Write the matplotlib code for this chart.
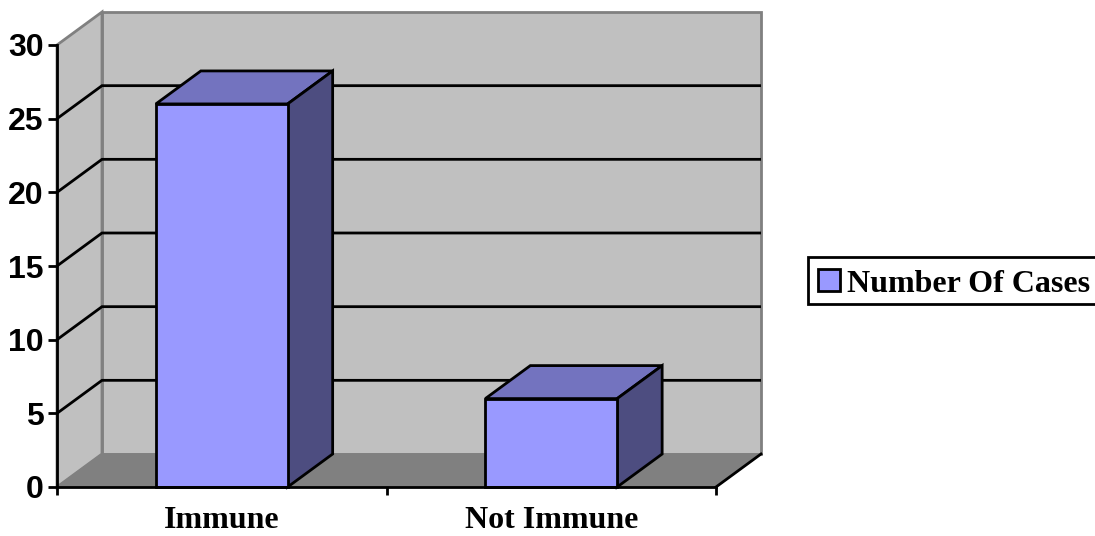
import matplotlib
matplotlib.use("Agg")
import matplotlib.pyplot as plt
from matplotlib.patches import Polygon, Patch, Rectangle

categories = ["Immune", "Not Immune"]
cases = [26, 6]
y_ticks = [0, 5, 10, 15, 20, 25, 30]
series_name = "Number Of Cases"

W, H = 1095, 536
FRONT = "#9999FF"
TOP = "#7373BF"
SIDE = "#4D4D80"
WALL = "#C0C0C0"
FLOOR = "#808080"
LW = 2.0

fig = plt.figure(figsize=(W / 100, H / 100), dpi=100, facecolor="white")
ax = fig.add_axes([57 / W, 1 - 487 / H, (716 - 57) / W, (487 - 45) / H])
ax.set_xlim(0, 2)
ax.set_ylim(0, 30)
ax.patch.set_visible(False)

# depth of the 3-D box, in data units
dx = 45 / (716 - 57) * 2
dy = 33 / ((487 - 45) / 30)
ymax = 30


def poly(pts, face, edge, lw=LW, z=1):
    p = Polygon(pts, closed=True, facecolor=face, edgecolor=edge, linewidth=lw,
                zorder=z, clip_on=False, joinstyle="miter")
    ax.add_patch(p)


# walls and floor
poly([(dx, dy), (2 + dx, dy), (2 + dx, ymax + dy), (dx, ymax + dy)], WALL, FLOOR, 2, 1)
poly([(0, 0), (dx, dy), (dx, ymax + dy), (0, ymax)], WALL, FLOOR, 2, 1)
poly([(0, 0), (2, 0), (2 + dx, dy), (dx, dy)], FLOOR, FLOOR, 1, 1.5)

# gridlines on both walls
for t in y_ticks[1:-1]:
    ax.plot([0, dx, 2 + dx], [t, t + dy, t + dy], color="black", lw=LW,
            clip_on=False, zorder=2, solid_capstyle="butt", solid_joinstyle="miter")
ax.plot([2, 2 + dx], [0, dy], color="black", lw=LW, clip_on=False, zorder=2)

# bars
centers = [0.5, 1.5]
bw = 0.4
ax.bar(centers, cases, width=bw, color=FRONT, edgecolor="black", linewidth=LW,
       zorder=4, clip_on=False)
for c, v in zip(centers, cases):
    l, r = c - bw / 2, c + bw / 2
    poly([(l, v), (r, v), (r + dx, v + dy), (l + dx, v + dy)], TOP, "black", LW, 3)
    poly([(r, 0), (r + dx, dy), (r + dx, v + dy), (r, v)], SIDE, "black", LW, 3)

# axes
for s in ("top", "right"):
    ax.spines[s].set_visible(False)
for s in ("left", "bottom"):
    ax.spines[s].set_linewidth(LW)
    ax.spines[s].set_zorder(5)

ax.set_yticks(y_ticks)
ax.set_yticklabels([str(t) for t in y_ticks], family="Liberation Sans",
                   fontweight="bold", fontsize=23)
ax.tick_params(axis="y", length=6.5, width=LW, pad=3)
ax.set_xticks([0, 1, 2])
ax.set_xticklabels([])
ax.tick_params(axis="x", which="major", length=5.5, width=LW)
ax.set_xticks(centers, minor=True)
ax.set_xticklabels(categories, minor=True, family="Liberation Serif",
                   fontweight="bold", fontsize=23)
ax.tick_params(axis="x", which="minor", length=0, pad=13.5)

# legend box runs past the right edge of the image as in the reference
fig.add_artist(Rectangle((808 / W, 1 - 304 / H), 300 / W, 47 / H,
                         transform=fig.transFigure, facecolor="white",
                         edgecolor="black", linewidth=LW, zorder=1))
leg = fig.legend(handles=[Patch(facecolor=FRONT, edgecolor="black", linewidth=LW)],
                 labels=[series_name], loc="center left",
                 bbox_to_anchor=(808 / W, 1 - 284 / H), frameon=False,
                 handlelength=0.68, handleheight=0.68,
                 handletextpad=0.22, borderpad=0.32, borderaxespad=0,
                 prop={"family": "Liberation Serif", "weight": "bold", "size": 23})
leg.set_zorder(2)

fig.savefig("out.png", dpi=100)
